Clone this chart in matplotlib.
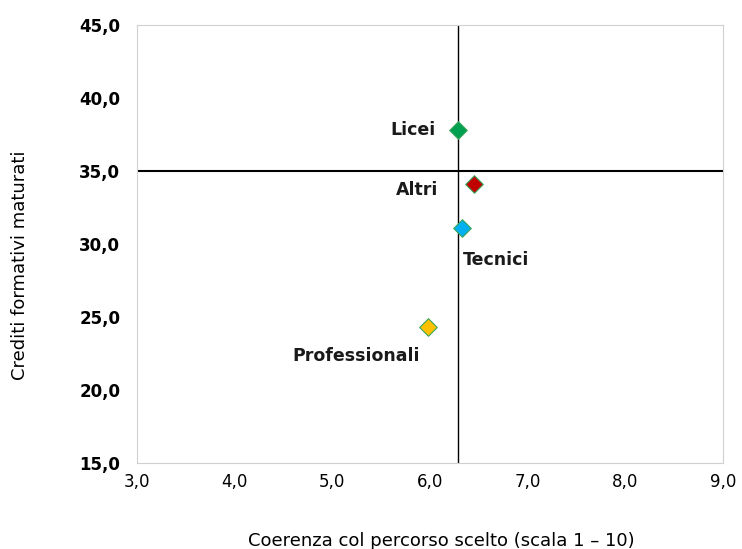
import matplotlib.pyplot as plt
from matplotlib.ticker import FuncFormatter

# dati
categorie = ["Licei", "Altri", "Tecnici", "Professionali"]
coerenza = [6.29, 6.45, 6.33, 5.98]
crediti = [37.8, 34.1, 31.1, 24.3]
colori = ["#00A050", "#C00000", "#00B0F0", "#FFC000"]
media_x = 6.29
media_y = 35.0

# spostamenti etichette in pixel
offset = [(-23, 0), (-36, -6), (1, -32), (-72, -29)]
allineamento = ["right", "right", "left", "center"]

plt.rcParams['font.family'] = ['DejaVu Sans']

fig = plt.figure(figsize=(7.42, 5.49), dpi=100)
ax = fig.add_axes([0.1846, 0.1566, 0.7898, 0.7979])

ax.axvline(media_x, color="black", linewidth=1.0, zorder=1)
ax.axhline(media_y, color="black", linewidth=1.5, zorder=1)

for i in range(len(categorie)):
    ax.scatter(coerenza[i], crediti[i], marker="D", s=80, color=colori[i],
               edgecolors="#3aa65a", linewidths=0.8, zorder=3)
    ax.annotate(categorie[i], (coerenza[i], crediti[i]), xytext=offset[i],
                textcoords="offset pixels", ha=allineamento[i], va="center",
                fontsize=12.5, fontweight="bold", color="#1a1a1a")

ax.set_xlim(3, 9)
ax.set_ylim(15, 45)
ax.set_xticks([3, 4, 5, 6, 7, 8, 9])
ax.set_yticks([15, 20, 25, 30, 35, 40, 45])
fmt = FuncFormatter(lambda v, p: ("%.1f" % v).replace(".", ","))
ax.xaxis.set_major_formatter(fmt)
ax.yaxis.set_major_formatter(fmt)
ax.tick_params(axis="x", length=0, labelsize=12, pad=7)
ax.tick_params(axis="y", length=0, labelsize=12, pad=12)
for lab in ax.get_yticklabels():
    lab.set_fontweight("bold")

for s in ax.spines.values():
    s.set_color("#d0d0d0")

ax.set_xlabel("Coerenza col percorso scelto (scala 1 – 10)", fontsize=13)
ax.set_ylabel("Crediti formativi maturati", fontsize=13)
ax.xaxis.set_label_coords(0.519, -0.158)
ax.yaxis.set_label_coords(-0.184, 0.452)

fig.savefig("out.png", dpi=100)
